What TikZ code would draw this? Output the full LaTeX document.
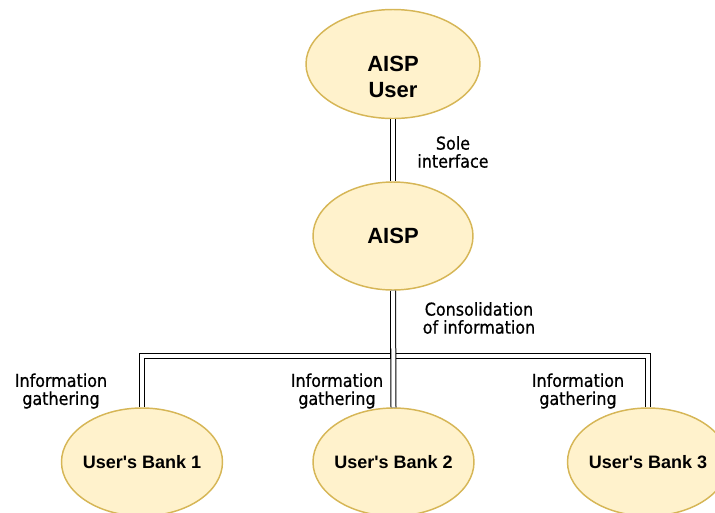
\documentclass[tikz,border=0pt]{standalone}
\usepackage{fontspec}
\setmainfont{Liberation Sans}
\newfontfamily\lblfont[UprightFeatures={FakeBold=0.7}]{DejaVu Sans Condensed}
\usetikzlibrary{shapes.geometric}
\definecolor{ellfill}{HTML}{FFF2CC}
\definecolor{ellline}{HTML}{D6B656}
\tikzset{
  ell/.style={ellipse, draw=ellline, fill=ellfill, line width=1.1pt, inner sep=0pt,
    align=center, font=\bfseries\fontsize{16.5pt}{20pt}\selectfont},
  bank/.style={ell, minimum width=120.75pt, minimum height=81pt,
    font=\bfseries\fontsize{13.5pt}{16pt}\selectfont},
  dbl/.style={draw=black, line width=0.75pt, double=white, double distance=3pt},
  lbl/.style={align=center, inner sep=0pt, font=\lblfont\fontsize{13.3pt}{13.5pt}\selectfont}
}
\begin{document}
\begin{tikzpicture}[x=0.75pt, y=-0.75pt]
\useasboundingbox (0,0) rectangle (715,512);
\clip (0,0) rectangle (715,512);
\node[ell, minimum width=130.5pt, minimum height=81.75pt] (user) at (393,64) {};
\node[align=center, inner sep=0pt, font=\bfseries\fontsize{16.5pt}{20pt}\selectfont] (usertxt) at (393,77) {AISP\\User};
\node[ell, minimum width=120pt, minimum height=81pt] (aisp) at (393,236) {\makebox[0pt]{AISP}};
\node[bank] (b1) at (142,462) {\makebox[0pt]{User\textquotesingle s Bank 1}};
\node[bank] (b2) at (393.5,462) {\makebox[0pt]{User\textquotesingle s Bank 2}};
\node[bank] (b3) at (648,462) {\makebox[0pt]{User\textquotesingle s Bank 3}};
\draw[dbl] (user.south) -- (aisp.north);
\draw[dbl] (aisp.south) -- ++(0,65) -| (b1.north);
\draw[dbl] (aisp.south) -- ++(0,65) -| (b3.north);
\draw[dbl] (aisp.south) -- (b2.north);
\node[lbl] (l1) at (453,152) {Sole\\interface};
\node[lbl] (l2) at (479,318) {Consolidation\\of information};
\node[lbl] (l3) at (61,391) {Information\\gathering};
\node[lbl] (l4) at (337,391) {Information\\gathering};
\node[lbl] (l5) at (578,391) {Information\\gathering};
\end{tikzpicture}
\end{document}
